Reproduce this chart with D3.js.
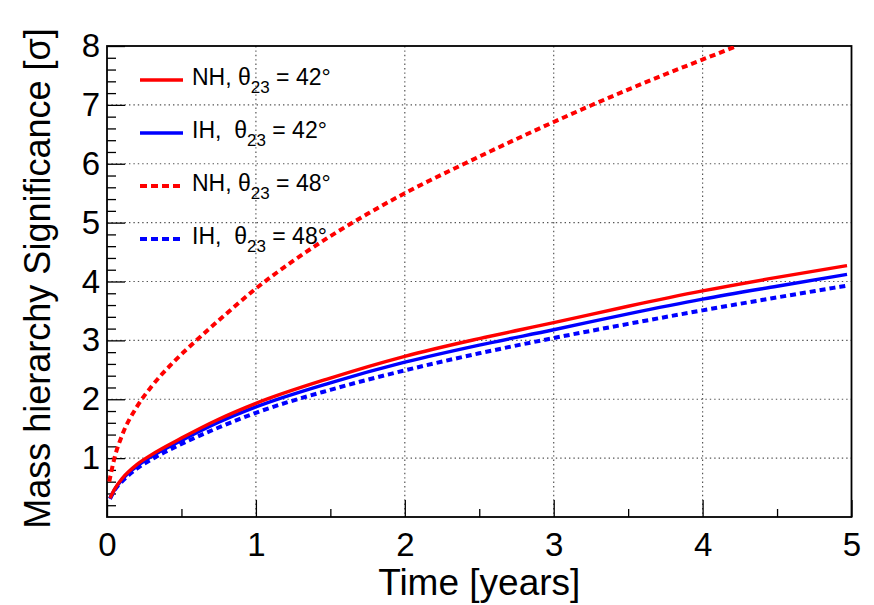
<!DOCTYPE html>
<html>
<head>
<meta charset="utf-8">
<script src="https://cdn.jsdelivr.net/npm/d3@7.9.0/dist/d3.min.js"></script>
<style>
  html, body { margin: 0; padding: 0; background: #fff; }
  svg { display: block; font-family: "Liberation Sans", Arial, Helvetica, sans-serif; }
  .grid line { stroke: #555; stroke-width: 1.2; stroke-dasharray: 1.4, 3; }
  .tick line { stroke: #000; stroke-width: 1.3; }
</style>
</head>
<body>
<svg id="chart" width="874" height="605"></svg>
<script>
// time axis values (years)
const times = [0.02, 0.05, 0.1, 0.15, 0.2, 0.3, 0.5, 0.75, 1, 1.5, 2, 2.5, 3, 3.5, 4, 4.5, 4.97];
const nh42 = [0.32, 0.47, 0.65, 0.78, 0.89, 1.06, 1.34, 1.66, 1.93, 2.36, 2.73, 3.03, 3.30, 3.58, 3.84, 4.07, 4.27];
const ih42 = [0.31, 0.46, 0.63, 0.76, 0.86, 1.03, 1.30, 1.61, 1.87, 2.28, 2.63, 2.92, 3.18, 3.45, 3.70, 3.92, 4.12];
const ih48 = [0.31, 0.45, 0.60, 0.72, 0.82, 0.98, 1.24, 1.52, 1.77, 2.16, 2.49, 2.78, 3.04, 3.28, 3.51, 3.73, 3.93];

// NH 48 rises faster, read at its own times
const timesNh48 = [0.015, 0.05, 0.1, 0.2, 0.3, 0.45, 0.6, 0.8, 1.0, 1.25, 1.5, 1.75, 2.0, 2.4, 2.75, 3.0, 3.25, 3.5, 3.75, 4.0, 4.23];
const nh48 = [0.6, 1.0, 1.38, 1.87, 2.22, 2.64, 3.0, 3.45, 3.88, 4.35, 4.77, 5.15, 5.5, 6.0, 6.42, 6.71, 6.99, 7.26, 7.52, 7.77, 8.0];

const xTicks = [0, 1, 2, 3, 4, 5];
const xMinor = [0.5, 1.5, 2.5, 3.5, 4.5];
const yTicks = [1, 2, 3, 4, 5, 6, 7, 8];
const yMinor = d3.range(1, 40).map((d) => d / 5).filter((d) => d % 1 !== 0);

const legendItems = [
  { head: 'NH, θ', angle: '42°', color: '#ff0000', dashed: false },
  { head: 'IH,  θ', angle: '42°', color: '#0000ff', dashed: false },
  { head: 'NH, θ', angle: '48°', color: '#ff0000', dashed: true },
  { head: 'IH,  θ', angle: '48°', color: '#0000ff', dashed: true },
];

const svg = d3.select('#chart');

const frame = { left: 107, right: 851.5, top: 46, bottom: 517 };

const xScale = d3.scaleLinear().domain([0, 5]).range([frame.left, frame.right]);
const yScale = d3.scaleLinear().domain([0, 8]).range([frame.bottom, frame.top]);

// dotted grid
const grid = svg.append('g').attr('class', 'grid');
grid.selectAll('line.gx')
  .data(xTicks.filter((d) => d > 0 && d < 5))
  .join('line')
  .attr('class', 'gx')
  .attr('x1', (d) => xScale(d)).attr('x2', (d) => xScale(d))
  .attr('y1', frame.top).attr('y2', frame.bottom);
grid.selectAll('line.gy')
  .data(yTicks.filter((d) => d < 8))
  .join('line')
  .attr('class', 'gy')
  .attr('x1', frame.left).attr('x2', frame.right)
  .attr('y1', (d) => yScale(d)).attr('y2', (d) => yScale(d));

// axes (ticks pointing inward)
const xAxis = svg.append('g')
  .attr('transform', `translate(0, ${frame.bottom})`)
  .call(d3.axisBottom(xScale).tickValues(xTicks).tickSize(-17).tickPadding(16).tickFormat(d3.format('d')));
const xAxisMinor = svg.append('g')
  .attr('transform', `translate(0, ${frame.bottom})`)
  .call(d3.axisBottom(xScale).tickValues(xMinor).tickSize(-8).tickFormat(''));
const yAxis = svg.append('g')
  .attr('transform', `translate(${frame.left}, 0)`)
  .call(d3.axisLeft(yScale).tickValues(yTicks).tickSize(-18).tickPadding(7).tickFormat(d3.format('d')));
const yAxisMinor = svg.append('g')
  .attr('transform', `translate(${frame.left}, 0)`)
  .call(d3.axisLeft(yScale).tickValues(yMinor).tickSize(-9).tickFormat(''));

for (const ax of [xAxis, xAxisMinor, yAxis, yAxisMinor]) {
  ax.select('.domain').remove();
  ax.attr('font-family', null);
  ax.selectAll('text').attr('font-size', 33).attr('fill', '#000');
}

// frame
svg.append('rect')
  .attr('x', frame.left).attr('y', frame.top)
  .attr('width', frame.right - frame.left).attr('height', frame.bottom - frame.top)
  .attr('fill', 'none').attr('stroke', '#000').attr('stroke-width', 1.8);

// curves
svg.append('clipPath').attr('id', 'plot-clip')
  .append('rect')
  .attr('x', frame.left).attr('y', frame.top)
  .attr('width', frame.right - frame.left).attr('height', frame.bottom - frame.top);

const line = d3.line()
  .x((d) => xScale(d[0]))
  .y((d) => yScale(d[1]))
  .curve(d3.curveMonotoneX);

const series = [
  { t: times, v: ih48, color: '#0000ff', dashed: true },
  { t: timesNh48, v: nh48, color: '#ff0000', dashed: true },
  { t: times, v: ih42, color: '#0000ff', dashed: false },
  { t: times, v: nh42, color: '#ff0000', dashed: false },
];

svg.append('g')
  .attr('clip-path', 'url(#plot-clip)')
  .selectAll('path')
  .data(series)
  .join('path')
  .attr('d', (s) => line(d3.zip(s.t, s.v)))
  .attr('fill', 'none')
  .attr('stroke', (s) => s.color)
  .attr('stroke-width', (s) => (s.dashed ? 4 : 3.4))
  .attr('stroke-dasharray', (s) => (s.dashed ? '6,4' : null));

// legend
const legend = svg.append('g').attr('transform', 'translate(140, 80)');
const rows = legend.selectAll('g')
  .data(legendItems)
  .join('g')
  .attr('transform', (d, i) => `translate(0, ${i * 53})`);

rows.append('line')
  .attr('x1', 0).attr('x2', 43)
  .attr('stroke', (d) => d.color)
  .attr('stroke-width', (d) => (d.dashed ? 4 : 3.4))
  .attr('stroke-dasharray', (d) => (d.dashed ? '7,4' : null));

const label = rows.append('text')
  .attr('x', 52).attr('y', 5)
  .attr('font-size', 23)
  .attr('fill', '#000')
  .style('white-space', 'pre');
label.append('tspan').text((d) => d.head);
label.append('tspan').attr('font-size', 17).attr('dy', 8).text('23');
label.append('tspan').attr('dy', -8).text((d) => ' = ' + d.angle);

// axis titles
svg.append('text')
  .attr('x', (frame.left + frame.right) / 2).attr('y', 595)
  .attr('text-anchor', 'middle')
  .attr('font-size', 37)
  .text('Time [years]');

svg.append('text')
  .attr('transform', `translate(50, ${(frame.top + frame.bottom) / 2 - 3}) rotate(-90)`)
  .attr('text-anchor', 'middle')
  .attr('font-size', 36)
  .text('Mass hierarchy Significance [σ]');
</script>
</body>
</html>
